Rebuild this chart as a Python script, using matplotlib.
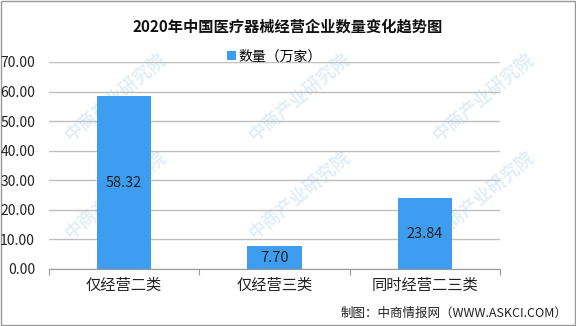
import matplotlib
matplotlib.use("Agg")
import matplotlib.pyplot as plt
import numpy as np

plt.rcParams['font.family'] = ['Noto Sans CJK SC', 'DejaVu Sans']

categories = ["仅经营二类", "仅经营三类", "同时经营二三类"]
values = [58.32, 7.70, 23.84]
y_ticks = [0, 10, 20, 30, 40, 50, 60, 70]

fig = plt.figure(figsize=(5.76, 3.26), dpi=100)
ax = fig.add_axes([0.085, 0.175, 0.783, 0.635])
ax.set_zorder(1)

# faint watermarks behind the chart
for wx, wy in [(0.2, 0.7), (0.52, 0.7), (0.84, 0.7), (0.2, 0.4), (0.52, 0.4),
               (0.84, 0.4)]:
    fig.text(wx, wy, "中商产业研究院", rotation=40, fontsize=13, color="#e3eef7",
             ha="center", va="center", fontweight="bold", zorder=-1)

x = np.arange(len(categories))
ax.bar(x, values, width=0.36, color="#3E9DF0", zorder=3, label="数量（万家）")
for xi, v in zip(x, values):
    ax.text(xi, v / 2, f"{v:.2f}", ha="center", va="center", fontsize=10.5,
            color="#222222", zorder=4)

ax.set_xlim(-0.5, 2.5)
ax.set_ylim(0, 70)
ax.set_yticks(y_ticks)
ax.set_yticklabels([f"{t:.2f}" for t in y_ticks], fontsize=10, color="#222222")
ax.set_xticks([-0.5, 0.5, 1.5, 2.5], minor=False)
ax.set_xticklabels([])
ax.set_xticks(x, minor=True)
ax.set_xticklabels(categories, minor=True, fontsize=11, color="#222222")
ax.tick_params(axis="x", which="major", length=4, color="#999999")
ax.tick_params(axis="x", which="minor", length=0, pad=6)
ax.tick_params(axis="y", length=0, pad=10)
ax.grid(axis="y", color="#BFBFBF", linewidth=1, zorder=0)
for s in ["top", "right", "left"]:
    ax.spines[s].set_visible(False)
ax.spines["bottom"].set_color("#999999")
ax.patch.set_alpha(0)

fig.text(0.5, 0.918, "2020年中国医疗器械经营企业数量变化趋势图", ha="center", va="center",
         fontsize=11, fontweight="bold", color="#111111")
ax.legend(loc="upper center", bbox_to_anchor=(0.5, 1.12), frameon=False, fontsize=10,
          handlelength=0.6, handleheight=0.6, handletextpad=0.2)
fig.text(0.985, 0.04, "制图：中商情报网（WWW.ASKCI.COM）", ha="right", va="center",
         fontsize=9, color="#222222")

fig.add_artist(plt.Rectangle((0.001, 0.002), 0.997, 0.995, transform=fig.transFigure,
                             fill=False, edgecolor="#999999", linewidth=1))

fig.savefig("out.png", dpi=100)
